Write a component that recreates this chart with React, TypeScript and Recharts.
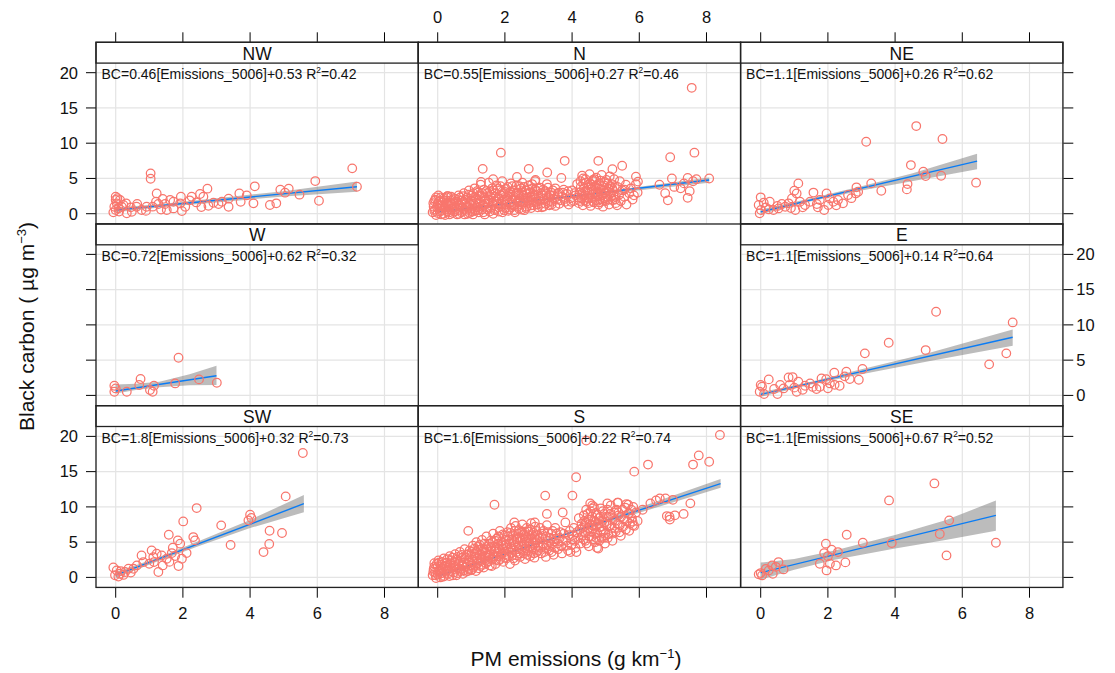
import React from 'react';
import { ComposedChart, Scatter, Area, Line, XAxis, YAxis, CartesianGrid } from 'recharts';

const FONT = '"Liberation Sans", Arial, sans-serif';

const X_TICKS = [0, 2, 4, 6, 8];
const Y_TICKS = [0, 5, 10, 15, 20];
const X_DOMAIN: [number, number] = [-0.586, 9.006];
const Y_DOMAIN: [number, number] = [-1.46, 24.31];

const PANEL_NAMES = ['NW', 'N', 'NE', 'W', 'E', 'SW', 'S', 'SE'];
const SLOPES = ['0.46', '0.55', '1.1', '0.72', '1.1', '1.8', '1.6', '1.1'];
const INTERCEPTS = ['0.53', '0.27', '0.26', '0.62', '0.14', '0.32', '0.22', '0.67'];
const R2 = ['0.42', '0.46', '0.62', '0.32', '0.64', '0.73', '0.74', '0.52'];

// [PM emissions, black carbon]
const NW_POINTS: [number, number][] = [
  [7.04, 6.43], [7.18, 3.83], [5.94, 4.63], [6.05, 1.84], [5.47, 2.7], [5.15, 3.55], [5.04, 2.98],
  [4.78, 1.47], [4.59, 1.23], [4.14, 3.88], [4.1, 1.47], [3.68, 2.88], [3.72, 1.7], [3.36, 2.13],
  [3.36, 0.99], [1.04, 5.72], [1.04, 4.96], [1.22, 2.88], [2.73, 3.55], [2.51, 2.79], [2.61, 2.41],
  [2.26, 2.41], [1.94, 2.41], [1.62, 1.94], [1.72, 1.7], [1.92, 1.47], [2.07, 0.99], [1.97, 0.38],
  [2.91, 1.56], [3.06, 1.37], [2.76, 1.13], [3.16, 1.7], [1.47, 1.37], [1.2, 1.7], [1.27, 1.37],
  [0.92, 0.99], [0.64, 1.37], [0.62, 0.99], [0.77, 0.52], [0.33, 0.05], [0.48, 0.28], [0.23, 1.23],
  [0.31, 1.47], [0, 2.41], [0, 1.94], [0.03, 1.47], [-0.04, 0.99], [0, 0.52], [-0.07, 0.19],
  [0.08, 0.75], [0.13, 1.94], [0.18, 0.99], [1.52, 0.52], [1.72, 0.75], [0.05, 2.2], [0.1, 0.3],
  [0.45, 0.9], [0.9, 0.4], [1.1, 1.0], [1.35, 0.6], [2.4, 1.6], [2.2, 1.9], [3.9, 2.6], [4.9, 3.4],
  [1.4, 2.1], [2.55, 0.95],
];

const N_POINTS: [number, number][] = [
  [-0.15, 0.2], [-0.12, 1.0], [-0.1, 1.8], [-0.08, 0.6], [-0.05, 2.3], [-0.05, -0.2], [0, 1.4], [0, 0.1],
  [0.02, 2.6], [0.05, 0.8], [0.08, 1.9], [0.1, -0.1], [0.1, 1.2], [0.12, 0.4],
  [0.18, 2.2], [0.2, 0.9], [0.22, -0.2], [0.25, 1.6], [0.28, 0.3], [0.3, 2.5], [0.32, 1.1], [0.35, -0.1],
  [0.38, 1.9], [0.4, 0.6], [0.42, 1.4], [0.45, 0.1], [0.48, 2.2], [0.5, 0.9],
  [0.55, 1.7], [0.58, -0.1], [0.6, 0.5], [0.62, 2.6], [0.65, 1.2], [0.7, 0.2], [0.72, 1.9], [0.75, 0.8],
  [0.78, 2.9], [0.8, -0.1], [0.82, 1.5], [0.85, 0.4], [0.88, 2.3], [0.9, 1.0], [0.93, 3.3], [0.95, 0.1],
  [0.98, 1.8], [1.0, 0.7],
  [1.02, 2.6], [1.05, -0.1], [1.08, 1.3], [1.1, 3.6], [1.12, 0.5], [1.15, 2.1], [1.18, 0.9], [1.2, 3.0],
  [1.22, 0.2], [1.25, 1.6], [1.28, 4.1], [1.3, 2.5], [1.32, 0.6], [1.35, 1.2], [1.38, 3.4], [1.4, -0.1],
  [1.42, 2.0], [1.45, 0.9], [1.48, 2.9], [1.5, 1.5],
  [1.52, 4.4], [1.55, 0.3], [1.58, 2.4], [1.6, 1.1], [1.62, 3.6], [1.65, 0.0], [1.68, 1.8], [1.7, 2.9],
  [1.72, 0.7], [1.75, 4.0], [1.78, 1.4], [1.8, 2.2], [1.82, 0.3], [1.85, 3.3], [1.88, 1.0], [1.9, 2.6],
  [1.92, 4.6], [1.95, 1.7], [1.98, 0.5], [2.0, 3.1],
  [2.02, 1.3], [2.05, 2.2], [2.08, 3.8], [2.1, 0.4], [2.12, 2.8], [2.15, 1.6], [2.18, 4.3], [2.2, 0.9],
  [2.22, 2.0], [2.25, 3.3], [2.28, 1.2], [2.3, 0.2], [2.32, 2.6], [2.35, 4.0], [2.38, 1.7], [2.4, 3.0],
  [2.42, 0.7], [2.45, 2.2], [2.48, 3.6], [2.5, 1.3],
  [2.52, 4.4], [2.55, 2.6], [2.58, 0.5], [2.6, 1.9], [2.62, 3.3], [2.65, 1.0], [2.68, 2.3], [2.7, 4.0],
  [2.72, 1.5], [2.75, 3.0], [2.78, 0.8], [2.8, 2.0], [2.82, 3.6], [2.85, 1.2], [2.88, 2.6], [2.9, 4.6],
  [2.92, 1.7], [2.95, 3.2], [2.98, 0.9], [3.0, 2.2],
  [3.05, 3.7], [3.08, 1.4], [3.12, 2.6], [3.15, 1.0], [3.2, 3.2], [3.22, 1.8], [3.25, 4.2], [3.3, 2.3],
  [3.32, 1.2], [3.38, 3.0], [3.4, 1.7], [3.45, 2.6], [3.5, 3.6], [3.5, 1.1],
  [3.55, 2.0], [3.6, 3.0], [3.62, 1.4], [3.7, 2.4], [3.75, 3.4], [3.8, 1.7], [3.85, 2.8], [3.9, 1.3],
  [3.95, 2.2], [4.0, 3.3], [4.05, 1.8], [4.1, 2.6], [4.15, 4.2], [4.2, 1.5],
  [4.22, 3.0], [4.25, 4.6], [4.28, 2.2], [4.3, 5.4], [4.32, 1.2], [4.35, 3.6], [4.38, 2.6], [4.4, 4.9],
  [4.42, 1.7], [4.45, 3.2], [4.48, 4.1], [4.5, 2.2], [4.52, 5.6], [4.55, 1.1], [4.58, 3.5], [4.6, 2.7],
  [4.62, 4.6], [4.65, 1.6], [4.68, 3.9], [4.7, 2.4], [4.72, 5.1], [4.75, 3.0], [4.78, 1.3], [4.8, 4.3],
  [4.82, 2.0], [4.85, 3.4], [4.88, 5.5], [4.9, 2.6], [4.92, 1.0], [4.95, 4.0], [4.98, 3.0], [5.0, 1.8],
  [5.02, 4.8], [5.05, 2.4], [5.08, 3.6], [5.1, 1.3], [5.12, 5.3], [5.15, 2.9], [5.18, 4.2], [5.2, 1.9],
  [5.22, 3.3], [5.25, 4.9], [5.28, 2.4], [5.3, 1.5],
  [5.35, 3.8], [5.4, 2.7], [5.42, 4.6], [5.45, 1.8], [5.5, 3.3], [5.55, 2.4], [5.6, 4.1], [5.62, 1.3],
  [5.7, 2.9], [5.75, 3.6], [5.8, 2.0], [5.9, 4.2], [5.95, 3.0],
  [-0.13, 1.5], [-0.1, 0.4], [-0.07, 2.0], [-0.02, 0.9], [0.03, 1.7], [0.06, 0.3], [0.09, 2.3],
  [0.14, 1.0], [0.16, 0.0], [0.2, 1.9], [0.24, 0.6], [0.27, 2.3], [0.3, 1.3], [0.34, 0.2], [0.37, 1.6],
  [0.4, 2.4], [0.43, 0.8], [0.46, 1.5], [0.5, 0.3],
  [0.53, 2.1], [0.56, 0.7], [0.6, 1.5], [0.63, 0.0], [0.67, 2.3], [0.7, 0.9], [0.73, 1.6], [0.76, 2.5],
  [0.8, 0.6], [0.83, 2.0], [0.86, 1.1], [0.89, 0.0], [0.92, 2.7], [0.95, 1.4], [0.98, 0.4],
  [1.01, 1.9], [1.04, 0.3], [1.06, 2.9], [1.09, 0.8], [1.11, 2.3], [1.14, 1.5], [1.17, 3.2], [1.2, 0.5],
  [1.23, 2.6], [1.26, 1.0], [1.29, 1.9], [1.33, 2.9], [1.36, 0.2], [1.39, 2.3], [1.42, 1.4], [1.45, 3.2],
  [1.48, 0.6],
  [1.51, 2.0], [1.54, 3.1], [1.57, 0.8], [1.6, 2.7], [1.63, 1.5], [1.66, 3.3], [1.69, 0.5], [1.72, 2.4],
  [1.75, 1.7], [1.78, 3.5], [1.81, 0.9], [1.84, 2.1], [1.87, 3.9], [1.9, 1.4], [1.93, 0.2], [1.96, 2.9],
  [1.99, 2.0],
  [2.01, 0.8], [2.04, 3.5], [2.07, 1.8], [2.1, 2.5], [2.13, 0.6], [2.16, 3.1], [2.19, 1.3], [2.22, 3.9],
  [2.25, 2.4], [2.28, 0.5], [2.31, 1.9], [2.34, 3.0], [2.37, 1.0], [2.4, 2.6], [2.43, 3.9], [2.46, 1.6],
  [2.49, 0.6],
  [2.51, 3.0], [2.54, 1.6], [2.57, 3.8], [2.6, 2.3], [2.63, 0.8], [2.66, 2.9], [2.69, 1.7], [2.72, 3.4],
  [2.75, 2.4], [2.78, 1.2], [2.81, 4.2], [2.84, 2.8], [2.87, 1.6], [2.9, 3.4], [2.93, 2.3], [2.96, 1.3],
  [2.99, 3.6],
  [3.03, 1.8], [3.07, 2.9], [3.1, 0.9], [3.14, 3.4], [3.17, 2.1], [3.21, 1.4], [3.24, 2.8], [3.28, 3.7],
  [3.31, 1.7], [3.35, 2.6], [3.39, 1.3], [3.43, 3.3], [3.47, 2.1],
  [3.57, 2.8], [3.65, 1.9], [3.72, 3.0], [3.78, 2.1], [3.88, 3.2], [3.97, 1.7], [4.07, 2.9], [4.18, 2.3],
  [4.23, 1.8], [4.26, 3.8], [4.29, 2.8], [4.33, 4.3], [4.36, 1.9], [4.39, 3.1], [4.41, 4.4], [4.44, 2.3],
  [4.47, 3.7], [4.49, 1.5], [4.51, 3.0], [4.54, 4.3], [4.56, 2.2], [4.59, 4.1], [4.61, 1.8], [4.64, 3.2],
  [4.66, 4.9], [4.69, 2.9], [4.71, 1.9], [4.74, 4.0], [4.77, 2.5], [4.79, 3.6], [4.81, 1.6], [4.84, 4.7],
  [4.87, 2.9], [4.89, 3.9], [4.91, 1.8], [4.94, 3.3], [4.97, 4.5], [4.99, 2.2], [5.03, 3.2], [5.06, 4.3],
  [5.09, 2.0], [5.13, 3.9], [5.16, 2.4], [5.19, 3.6], [5.23, 2.6], [5.27, 3.9], [5.29, 2.0],
  [7.56, 17.85], [1.88, 8.66], [6.92, 8.0], [7.64, 8.66], [3.78, 7.5], [4.78, 7.5], [1.34, 6.36],
  [2.71, 6.36], [3.26, 5.84], [5.2, 6.3], [5.49, 6.8], [3.68, 5.07], [5.9, 5.26], [5.96, 4.55],
  [8.08, 5.0], [6.97, 5.0], [7.44, 5.07], [6.77, 2.9], [6.85, 1.9], [7.44, 2.25], [7.23, 3.6],
  [7.33, 4.3], [7.04, 3.8], [5.84, 2.6], [5.34, 1.2], [5.56, 3.4], [0.29, 2.5], [1.65, 4.9],
  [1.29, 4.5], [2.36, 5.2], [2.91, 4.8], [4.33, 5.0], [4.62, 4.8], [7.6, 4.6], [7.5, 3.2], [7.7, 4.9],
  [6.6, 4.1],
];

const NE_POINTS: [number, number][] = [
  [4.63, 12.43], [3.14, 10.21], [5.41, 10.59], [6.41, 4.4], [4.47, 6.9], [4.84, 5.96], [4.91, 5.34],
  [5.37, 5.39], [4.37, 4.2], [4.35, 3.45], [3.59, 3.26], [3.29, 4.3], [2.85, 3.74], [2.83, 2.88],
  [2.9, 3.12], [2.6, 2.65], [2.45, 1.47], [2.3, 1.94], [1.96, 2.88], [2.06, 2.17], [1.89, 0.52],
  [2.01, 1.23], [2.16, 1.7], [1.57, 3.0], [1.12, 4.3], [1.0, 3.26], [1.07, 2.88], [0.93, 2.17],
  [1.17, 1.7], [0.83, 1.47], [0.73, 0.99], [0.63, 1.37], [1.47, 1.7], [1.67, 1.37], [1.76, 1.94],
  [1.32, 1.23], [0.27, 1.7], [0.24, 0.61], [0, 2.32], [-0.06, 1.23], [0.01, 0.52], [0.09, 1.56],
  [-0.03, 0.05], [0.38, 0.52], [0.53, 0.75], [1.03, 0.52], [0.5, 1.1], [0.15, 0.9], [0.9, 0.8],
  [1.25, 0.9], [2.25, 1.2], [2.7, 2.2], [1.7, 0.9],
];

const W_POINTS: [number, number][] = [
  [1.87, 5.34], [-0.04, 1.37], [-0.04, 0.52], [0, 0.99], [0.33, 0.52], [0.74, 2.32], [0.7, 1.47],
  [1.02, 0.76], [1.1, 0.52], [1.14, 1.37], [1.77, 1.7], [2.48, 2.27], [3.01, 1.8],
];

const E_POINTS: [number, number][] = [
  [5.22, 11.87], [7.5, 10.35], [3.81, 7.47], [3.1, 5.96], [4.91, 6.43], [6.8, 4.4], [7.31, 5.96],
  [3.03, 3.74], [2.55, 3.36], [2.19, 3.22], [2.92, 2.22], [2.65, 2.32], [2.35, 1.37], [2.06, 1.7],
  [1.81, 2.41], [1.76, 1.23], [1.47, 1.7], [1.32, 1.37], [1.12, 1.94], [0.83, 2.55], [0.86, 1.47],
  [0.68, 0.99], [0.58, 1.47], [0.24, 2.27], [0, 1.47], [-0.03, 0.52], [0.04, 1.23], [0.5, 0.19],
  [1.07, 0.52], [1.66, 0.9], [2.0, 1.0], [2.2, 1.5], [0.95, 2.6], [1.0, 1.1], [1.55, 1.2], [1.95, 2.3],
  [2.5, 2.7], [0.4, 0.9], [1.25, 0.8], [0.1, 0.2],
];

const SW_POINTS: [number, number][] = [
  [5.57, 17.64], [5.06, 11.49], [2.41, 9.83], [2.01, 7.94], [3.14, 7.38], [4.0, 8.89], [4.04, 8.42],
  [3.95, 8.09], [1.58, 6.05], [4.58, 6.62], [4.95, 6.29], [4.57, 4.73], [4.4, 3.59], [3.42, 4.59],
  [2.31, 5.72], [2.36, 5.25], [1.85, 5.25], [1.92, 4.78], [1.7, 4.21], [1.67, 3.45], [1.77, 3.03],
  [1.87, 1.61], [2.11, 3.45], [1.97, 2.65], [1.27, 0.76], [1.07, 3.83], [1.12, 2.88], [1.22, 3.36],
  [1.0, 1.94], [1.4, 1.7], [1.14, 2.17], [0.77, 3.12], [0.82, 2.17], [0.63, 1.7], [0.53, 1.23],
  [0.38, 1.23], [0.28, 0.76], [0.13, 0.52], [0.03, 0.99], [-0.02, 0.3], [-0.07, 1.4], [0.08, 0.13],
  [0.23, 0.35], [1.52, 2.65], [1.37, 3.1], [0.45, 0.7], [0.15, 0.9], [1.6, 2.2],
];

const S_POINTS: [number, number][] = [
  [-0.15, 0.3], [-0.12, 1.2], [-0.1, 2.0], [-0.08, 0.7], [-0.05, -0.1], [0, 1.6], [0, 0.4], [0.02, 2.4],
  [0.05, 1.0], [0.08, 0.0], [0.1, 1.8], [0.12, 0.6], [0.15, 1.3], [0.18, 2.7], [0.2, 0.2],
  [0.25, 1.0], [0.28, 2.1], [0.3, 0.5], [0.33, 1.6], [0.36, 3.0], [0.4, 0.9], [0.42, 2.4], [0.45, 0.3],
  [0.48, 1.7], [0.52, 3.3], [0.55, 1.1], [0.58, 2.5], [0.6, 0.6],
  [0.63, 1.9], [0.66, 3.6], [0.7, 1.2], [0.72, 2.8], [0.75, 0.5], [0.78, 2.1], [0.8, 4.0], [0.83, 1.5],
  [0.86, 3.2], [0.9, 0.9], [0.92, 2.4], [0.95, 3.8], [0.98, 1.7], [1.0, 2.9],
  [1.02, 1.1], [1.05, 4.5], [1.08, 2.2], [1.1, 3.4], [1.12, 1.6], [1.15, 5.0], [1.18, 2.7], [1.2, 3.9],
  [1.22, 1.3], [1.25, 4.6], [1.28, 2.3], [1.3, 3.2], [1.32, 5.3], [1.35, 1.8], [1.38, 4.0], [1.4, 2.7],
  [1.42, 3.5], [1.45, 5.8], [1.48, 2.2], [1.5, 4.4],
  [1.52, 3.1], [1.55, 1.7], [1.58, 5.2], [1.6, 3.8], [1.62, 2.5], [1.65, 6.2], [1.68, 4.4], [1.7, 3.0],
  [1.72, 1.9], [1.75, 5.5], [1.78, 3.6], [1.8, 4.8], [1.82, 2.4], [1.85, 6.6], [1.88, 3.2], [1.9, 5.1],
  [1.92, 4.1], [1.95, 2.2], [1.98, 5.9], [2.0, 3.6],
  [2.02, 4.6], [2.05, 2.7], [2.08, 6.4], [2.1, 3.9], [2.12, 5.4], [2.15, 1.9], [2.18, 7.0], [2.2, 4.3],
  [2.22, 3.1], [2.25, 6.0], [2.28, 5.0], [2.3, 2.4], [2.32, 7.3], [2.35, 3.6], [2.38, 5.6], [2.4, 4.5],
  [2.42, 6.7], [2.45, 2.9], [2.48, 5.2], [2.5, 3.9],
  [2.52, 7.5], [2.55, 6.1], [2.58, 4.6], [2.6, 2.6], [2.62, 5.6], [2.65, 7.0], [2.68, 3.8], [2.7, 6.5],
  [2.72, 4.9], [2.75, 3.0], [2.78, 7.7], [2.8, 5.5], [2.82, 4.2], [2.85, 6.3], [2.88, 2.8], [2.9, 7.2],
  [2.92, 5.0], [2.95, 3.6], [2.98, 6.0], [3.0, 4.5],
  [3.05, 7.0], [3.08, 3.4], [3.12, 5.6], [3.15, 6.6], [3.2, 4.2], [3.22, 2.9], [3.25, 7.4], [3.3, 5.2],
  [3.32, 3.8], [3.38, 6.2], [3.4, 4.6], [3.45, 3.2], [3.5, 7.0], [3.52, 5.5], [3.58, 4.0],
  [3.65, 6.4], [3.7, 3.4], [3.72, 5.2], [3.8, 7.8], [3.85, 4.5], [3.9, 6.0], [3.95, 3.6], [4.0, 5.4],
  [4.05, 7.0], [4.1, 4.2], [4.15, 6.4], [4.2, 8.4], [4.25, 4.8],
  [4.32, 6.0], [4.35, 8.8], [4.38, 7.3], [4.4, 5.2], [4.42, 9.6], [4.45, 6.6], [4.48, 8.2], [4.5, 4.4],
  [4.52, 7.6], [4.55, 9.4], [4.58, 5.8], [4.6, 8.6], [4.62, 6.9], [4.65, 10.0], [4.68, 5.0], [4.7, 7.9],
  [4.72, 9.1], [4.75, 6.3], [4.78, 4.1], [4.8, 8.4], [4.82, 7.1], [4.85, 9.8], [4.88, 5.6], [4.9, 8.0],
  [4.92, 6.6], [4.95, 9.0], [4.98, 4.8],
  [5.02, 7.5], [5.05, 9.6], [5.08, 6.1], [5.1, 8.6], [5.15, 10.2], [5.18, 7.0], [5.2, 5.2], [5.25, 9.2],
  [5.28, 8.0], [5.3, 6.5], [5.35, 10.6], [5.38, 8.8], [5.42, 7.4], [5.45, 5.9], [5.5, 9.6], [5.55, 8.2],
  [5.6, 6.8], [5.62, 10.4], [5.68, 9.0], [5.72, 7.6], [5.78, 8.4], [5.82, 10.0], [5.85, 7.3], [5.9, 9.2],
  [5.95, 8.0],
  [-0.13, 0.8], [-0.1, 1.5], [-0.06, 0.3], [-0.03, 1.9], [0.01, 0.9], [0.04, 2.1], [0.07, 0.5],
  [0.1, 1.3], [0.13, 2.2], [0.16, 0.1], [0.19, 1.6], [0.22, 0.8], [0.26, 1.7], [0.29, 2.6], [0.32, 1.1],
  [0.35, 0.2], [0.38, 2.0], [0.41, 1.4], [0.44, 2.8], [0.47, 0.7], [0.5, 2.2],
  [0.53, 1.5], [0.56, 0.3], [0.59, 2.9], [0.62, 1.3], [0.65, 2.2], [0.68, 0.9], [0.71, 3.2], [0.74, 1.8],
  [0.77, 1.0], [0.8, 2.6], [0.84, 0.8], [0.87, 1.9], [0.9, 3.3], [0.93, 1.2], [0.96, 2.1], [0.99, 1.0],
  [1.01, 3.6], [1.03, 2.5], [1.06, 1.4], [1.09, 4.1], [1.11, 2.9], [1.14, 0.9], [1.16, 3.6], [1.19, 2.0],
  [1.21, 4.4], [1.24, 3.1], [1.27, 1.6], [1.29, 4.0], [1.31, 2.6], [1.34, 3.7], [1.37, 1.4], [1.39, 4.8],
  [1.41, 3.0], [1.44, 2.0], [1.47, 4.0], [1.49, 3.1],
  [1.51, 2.3], [1.53, 4.8], [1.56, 3.3], [1.59, 4.3], [1.61, 1.6], [1.64, 5.0], [1.66, 2.9], [1.69, 3.7],
  [1.71, 5.2], [1.74, 2.5], [1.76, 4.2], [1.79, 3.0], [1.81, 5.8], [1.84, 4.0], [1.86, 2.6], [1.89, 4.6],
  [1.91, 3.4], [1.94, 6.1], [1.96, 4.5], [1.99, 2.8],
  [2.01, 5.3], [2.03, 3.3], [2.06, 4.2], [2.09, 5.8], [2.11, 3.0], [2.14, 4.8], [2.16, 6.3], [2.19, 3.5],
  [2.21, 5.3], [2.24, 4.0], [2.26, 2.7], [2.29, 6.6], [2.31, 4.6], [2.34, 5.4], [2.36, 3.1], [2.39, 6.2],
  [2.41, 4.0], [2.44, 5.6], [2.46, 3.4], [2.49, 6.5],
  [2.51, 4.4], [2.53, 5.5], [2.56, 3.4], [2.59, 6.5], [2.61, 4.1], [2.64, 5.1], [2.66, 3.2], [2.69, 6.0],
  [2.71, 5.5], [2.74, 4.4], [2.76, 6.8], [2.79, 3.6], [2.81, 6.0], [2.84, 4.9], [2.86, 3.4], [2.89, 5.7],
  [2.91, 4.2], [2.94, 6.6], [2.96, 5.3], [2.99, 3.8],
  [3.02, 5.6], [3.06, 4.2], [3.1, 6.2], [3.13, 4.8], [3.17, 3.6], [3.21, 5.8], [3.24, 4.6], [3.28, 6.4],
  [3.31, 4.4], [3.35, 5.6], [3.39, 3.6], [3.42, 6.6], [3.46, 5.1], [3.49, 4.2], [3.54, 6.2], [3.57, 4.8],
  [3.63, 5.6], [3.68, 4.4], [3.75, 6.2], [3.82, 5.2], [3.88, 3.8], [3.93, 6.6], [3.98, 4.6], [4.03, 6.0],
  [4.08, 5.2], [4.13, 3.6], [4.18, 5.6], [4.23, 6.8], [4.28, 7.6],
  [4.31, 7.0], [4.34, 5.4], [4.36, 8.0], [4.39, 6.3], [4.41, 7.8], [4.43, 4.8], [4.46, 9.0], [4.49, 7.0],
  [4.51, 5.8], [4.54, 8.2], [4.56, 6.5], [4.59, 7.4], [4.61, 9.8], [4.63, 5.4], [4.66, 8.0], [4.69, 6.2],
  [4.71, 7.2], [4.73, 5.6], [4.76, 8.9], [4.79, 7.6], [4.81, 5.2], [4.84, 8.6], [4.86, 6.5], [4.89, 7.2],
  [4.91, 9.4], [4.94, 5.6], [4.96, 7.8], [4.99, 6.2],
  [5.03, 8.6], [5.06, 5.6], [5.11, 7.4], [5.14, 9.0], [5.19, 6.2], [5.22, 8.4], [5.27, 7.0], [5.32, 9.6],
  [5.36, 7.6], [5.41, 6.4], [5.46, 8.6], [5.52, 7.2], [5.58, 9.9], [5.64, 8.0], [5.7, 6.6], [5.76, 9.6],
  [5.8, 7.9],
  [8.4, 20.2], [7.77, 17.3], [7.6, 16.0], [8.08, 16.4], [6.26, 16.0], [5.85, 15.0], [4.12, 14.2],
  [4.42, 19.4], [3.2, 11.6], [4.01, 11.6], [1.69, 10.3], [4.54, 10.5], [5.05, 10.5], [5.37, 10.6],
  [5.67, 10.3], [6.61, 11.2], [6.78, 11.2], [6.33, 10.5], [7.52, 10.5], [6.82, 8.7], [6.91, 8.2],
  [7.06, 8.8], [7.32, 9.0], [0.91, 6.6], [3.25, 9.0], [3.72, 9.2], [2.28, 7.8], [2.89, 7.8], [4.6, 10.2],
  [5.38, 9.2], [5.68, 9.1], [5.81, 7.4], [4.74, 4.2], [6.5, 10.9], [7.0, 11.0], [6.9, 8.6], [6.1, 9.6],
];

const SE_POINTS: [number, number][] = [
  [5.17, 13.33], [3.82, 10.92], [5.61, 8.09], [7.0, 4.92], [5.33, 6.15], [5.53, 3.12], [3.9, 4.87],
  [3.04, 4.92], [2.56, 6.05], [2.52, 2.13], [1.94, 4.78], [1.89, 3.45], [2.11, 3.92], [2.3, 3.59],
  [1.76, 1.94], [1.96, 0.99], [2.24, 1.7], [2.06, 1.94], [0.53, 2.17], [0.68, 1.13], [0.34, 1.7],
  [0.36, 0.52], [0.24, 0.99], [0, 0.61], [0.04, 0.28], [-0.06, 0.43], [0.45, 1.5], [2.0, 3.0],
  [0.15, 1.2],
];

// fitted line end points [x, y]
const NW_FIT: [number, number][] = [[0, 0.53], [7.18, 3.83]];
const N_FIT: [number, number][] = [[0, 0.27], [8.08, 4.78]];
const NE_FIT: [number, number][] = [[0, 0.26], [6.44, 7.45]];
const W_FIT: [number, number][] = [[0, 0.62], [3.0, 2.79]];
const E_FIT: [number, number][] = [[0, 0.14], [7.5, 8.25]];
const SW_FIT: [number, number][] = [[0, 0.32], [5.6, 10.45]];
const S_FIT: [number, number][] = [[0, 0.22], [8.42, 13.3]];
const SE_FIT: [number, number][] = [[0, 0.67], [7.0, 8.79]];

// confidence band [x, lower, upper]
const NW_BAND: [number, number, number][] = [[0, 0.2, 0.85], [1.5, 1.0, 1.45], [3, 1.6, 2.2], [5, 2.45, 3.2], [7.18, 3.1, 4.55]];
const N_BAND: [number, number, number][] = [[0, 0.05, 0.5], [4, 2.3, 2.55], [8.08, 4.4, 5.15]];
const NE_BAND: [number, number, number][] = [[0, -0.1, 0.6], [1.5, 1.75, 2.2], [3, 3.3, 3.9], [4.5, 4.6, 5.7], [6.44, 6.3, 8.5]];
const W_BAND: [number, number, number][] = [[0, 0.28, 1.56], [0.6, 0.75, 1.65], [1.3, 1.15, 1.95], [2.2, 1.45, 3.0], [3.0, 1.47, 4.2]];
const E_BAND: [number, number, number][] = [[0, -0.2, 0.45], [1.5, 1.55, 1.95], [3, 3.0, 3.7], [5, 4.85, 6.0], [7.5, 7.05, 9.35]];
const SW_BAND: [number, number, number][] = [[0, -0.1, 0.75], [1.2, 2.2, 2.7], [2.5, 4.5, 5.2], [4, 7.0, 8.15], [5.6, 9.25, 11.7]];
const S_BAND: [number, number, number][] = [[0, 0.0, 0.45], [4, 6.25, 6.6], [8.42, 12.7, 13.95]];
const SE_BAND: [number, number, number][] = [[0, -0.3, 2.1], [1, 1.1, 2.6], [2.2, 2.5, 3.8], [4, 4.1, 6.0], [5.5, 5.3, 8.1], [7.0, 6.6, 10.9]];

const POINTS = [NW_POINTS, N_POINTS, NE_POINTS, W_POINTS, E_POINTS, SW_POINTS, S_POINTS, SE_POINTS];
const FITS = [NW_FIT, N_FIT, NE_FIT, W_FIT, E_FIT, SW_FIT, S_FIT, SE_FIT];
const BANDS = [NW_BAND, N_BAND, NE_BAND, W_BAND, E_BAND, SW_BAND, S_BAND, SE_BAND];
const CELLS: [number, number][] = [[0, 0], [1, 0], [2, 0], [0, 1], [2, 1], [0, 2], [1, 2], [2, 2]];

// layout
const GRID_LEFT = 96;
const GRID_TOP = 42.3;
const PANEL_W = 322.3;
const ROW_H = 181.7;
const STRIP_H = 20.8;
const AXIS_L = 96;
const AXIS_R = 52;
const AXIS_T = 42.3;
const AXIS_B = 45;

const POINT_COLOR = '#f8766d';
const LINE_COLOR = '#0a7cf5';
const GRID_COLOR = '#e4e4e4';

const tickStyle = { fontSize: 16.5, fill: '#111', fontFamily: FONT };
const blank = () => '';

const Ring = (props: any) => {
  const { cx, cy } = props;
  if (cx == null || cy == null) return null;
  return <circle cx={cx} cy={cy} r={4.3} fill="none" stroke={POINT_COLOR} strokeWidth={1.25} />;
};

function Panel({ index }: { index: number }) {
  const [col, row] = CELLS[index];
  const plotLeft = GRID_LEFT + col * PANEL_W;
  const boxTop = GRID_TOP + row * ROW_H;
  const padL = col === 0 ? AXIS_L : 0;
  const padR = col === 2 ? AXIS_R : 0;
  const padT = row === 0 ? AXIS_T : 0;
  const padB = row === 2 ? AXIS_B : 0;

  const rows: any[] = BANDS[index].map(([x, lo, hi]) => ({ x, band: [lo, hi] }));
  FITS[index].forEach(([x, y]) => {
    const r = rows.find((d) => d.x === x);
    if (r) r.fit = y;
    else rows.push({ x, fit: y });
  });
  rows.sort((a, b) => a.x - b.x);
  const pts = POINTS[index].map(([x, y]) => ({ x, y }));

  const xLabels = (row === 0 && col === 1) || (row === 2 && col !== 1);
  const leftLabels = col === 0 && row !== 1;
  const rightLabels = col === 2 && row === 1;

  return (
    <div style={{ position: 'absolute', left: plotLeft - padL, top: boxTop - padT }}>
      <ComposedChart
        width={padL + PANEL_W + padR}
        height={padT + ROW_H + padB}
        data={rows}
        margin={{ top: 0, right: 0, bottom: 0, left: 0 }}
      >
        <CartesianGrid stroke={GRID_COLOR} strokeWidth={1.2} />
        <XAxis
          type="number"
          dataKey="x"
          domain={X_DOMAIN}
          ticks={X_TICKS}
          allowDataOverflow
          orientation={row === 0 ? 'top' : 'bottom'}
          hide={row === 1}
          height={row === 0 ? padT : padB}
          axisLine={false}
          tickLine={{ stroke: '#000' }}
          tickSize={10}
          tickMargin={row === 0 ? 9 : 10}
          tick={tickStyle}
          tickFormatter={xLabels ? undefined : blank}
        />
        <YAxis
          type="number"
          dataKey="y"
          domain={Y_DOMAIN}
          ticks={Y_TICKS}
          allowDataOverflow
          hide={col !== 0}
          width={padL}
          axisLine={false}
          tickLine={{ stroke: '#000' }}
          tickSize={10}
          tickMargin={8}
          tick={tickStyle}
          tickFormatter={leftLabels ? undefined : blank}
        />
        {col === 2 && (
          <YAxis
            yAxisId="right"
            orientation="right"
            type="number"
            dataKey="y"
            domain={Y_DOMAIN}
            ticks={Y_TICKS}
            allowDataOverflow
            width={padR}
            axisLine={false}
            tickLine={{ stroke: '#000' }}
            tickSize={10}
            tickMargin={3}
            tick={tickStyle}
            tickFormatter={rightLabels ? undefined : blank}
          />
        )}
        <Scatter data={pts} shape={Ring} isAnimationActive={false} />
        <Area
          type="linear"
          dataKey="band"
          stroke="none"
          fill="#7a7a7a"
          fillOpacity={0.5}
          isAnimationActive={false}
          activeDot={false}
        />
        <Line
          type="linear"
          dataKey="fit"
          stroke={LINE_COLOR}
          strokeWidth={1.4}
          dot={false}
          activeDot={false}
          connectNulls
          isAnimationActive={false}
        />
      </ComposedChart>
    </div>
  );
}

export default function App() {
  return (
    <div
      style={{
        position: 'absolute',
        left: 0,
        top: 0,
        width: 1115,
        height: 673,
        background: '#fff',
        fontFamily: FONT,
        color: '#111',
        overflow: 'hidden',
      }}
    >
      {CELLS.map((_, i) => (
        <Panel key={PANEL_NAMES[i]} index={i} />
      ))}

      <svg width={1115} height={673} style={{ position: 'absolute', left: 0, top: 0, pointerEvents: 'none' }}>
        {CELLS.map(([col, row], i) => {
          const x = GRID_LEFT + col * PANEL_W;
          const y = GRID_TOP + row * ROW_H;
          return (
            <g key={PANEL_NAMES[i]}>
              <rect x={x} y={y} width={PANEL_W} height={STRIP_H} fill="#fff" stroke="#222" strokeWidth={1.3} />
              <rect x={x} y={y} width={PANEL_W} height={ROW_H} fill="none" stroke="#222" strokeWidth={1.3} />
            </g>
          );
        })}
      </svg>

      {CELLS.map(([col, row], i) => {
        const x = GRID_LEFT + col * PANEL_W;
        const y = GRID_TOP + row * ROW_H;
        return (
          <React.Fragment key={PANEL_NAMES[i]}>
            <div
              style={{
                position: 'absolute',
                left: x,
                top: y + 3.2,
                width: PANEL_W,
                textAlign: 'center',
                fontSize: 17.5,
                lineHeight: '17.5px',
              }}
            >
              {PANEL_NAMES[i]}
            </div>
            <div
              style={{
                position: 'absolute',
                left: x + 5.5,
                top: y + STRIP_H + 4,
                fontSize: 14,
                lineHeight: '14px',
                whiteSpace: 'nowrap',
              }}
            >
              BC={SLOPES[i]}[Emissions_5006]+{INTERCEPTS[i]} R
              <sup style={{ fontSize: '0.6em', lineHeight: 0 }}>2</sup>={R2[i]}
            </div>
          </React.Fragment>
        );
      })}

      <div
        style={{
          position: 'absolute',
          left: 26 - 160,
          top: 326 - 10.5,
          width: 320,
          height: 21,
          lineHeight: '21px',
          fontSize: 21,
          textAlign: 'center',
          whiteSpace: 'nowrap',
          transform: 'rotate(-90deg)',
        }}
      >
        Black carbon ( µg m<sup style={{ fontSize: '0.62em', lineHeight: 0 }}>−3</sup>)
      </div>
      <div
        style={{
          position: 'absolute',
          left: 576 - 200,
          top: 648,
          width: 400,
          lineHeight: '21px',
          fontSize: 21,
          textAlign: 'center',
          whiteSpace: 'nowrap',
        }}
      >
        PM emissions (g km<sup style={{ fontSize: '0.62em', lineHeight: 0 }}>−1</sup>)
      </div>
    </div>
  );
}
